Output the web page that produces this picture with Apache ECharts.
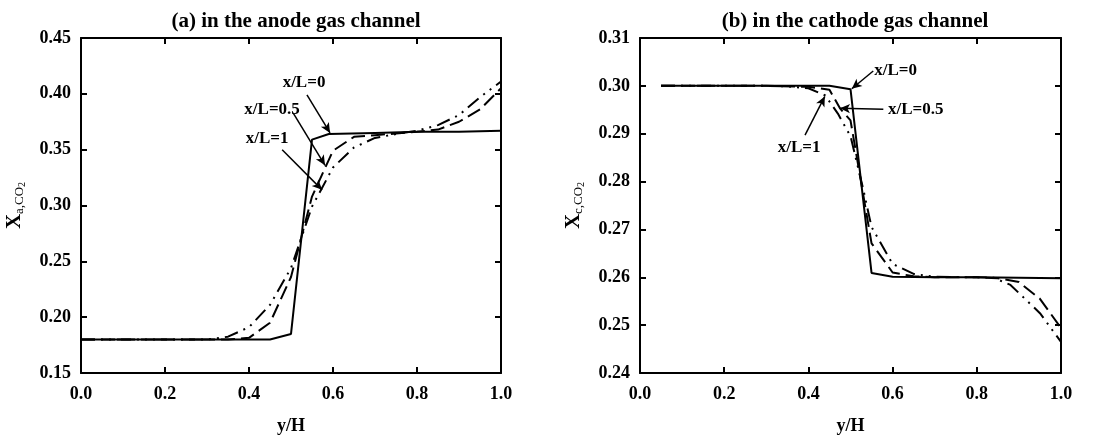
<!DOCTYPE html>
<html>
<head>
<meta charset="utf-8">
<script src="https://cdn.jsdelivr.net/npm/echarts@6/dist/echarts.min.js"></script>
<style>
  html, body { margin: 0; padding: 0; background: #fff; }
  #chart { width: 1109px; height: 441px; }
</style>
</head>
<body>
<div id="chart"></div>
<script>
  // (a) anode gas channel: y/H positions and X_a,CO2 values
  var anodeYH0 = [0, 0.45, 0.5, 0.55, 0.59, 0.7, 0.8, 0.9, 1.0];
  var anodeX0 = [0.18, 0.18, 0.185, 0.359, 0.364, 0.365, 0.366, 0.366, 0.367];
  var anodeYH = [0, 0.05, 0.1, 0.15, 0.2, 0.25, 0.3, 0.35, 0.4, 0.45, 0.5, 0.55, 0.6, 0.65, 0.7, 0.75, 0.8, 0.85, 0.9, 0.95, 1.0];
  var anodeX05 = [0.18, 0.18, 0.18, 0.18, 0.18, 0.18, 0.18, 0.18, 0.1815, 0.195, 0.236, 0.308, 0.349, 0.3615, 0.363, 0.3645, 0.366, 0.368, 0.375, 0.386, 0.405];
  var anodeX1 = [0.18, 0.18, 0.18, 0.18, 0.18, 0.18, 0.18, 0.1825, 0.191, 0.211, 0.244, 0.299, 0.334, 0.352, 0.3605, 0.364, 0.367, 0.372, 0.381, 0.397, 0.411];

  // (b) cathode gas channel
  var cathodeYH0 = [0.05, 0.45, 0.5, 0.55, 0.6, 0.7, 0.8, 0.9, 1.0];
  var cathodeX0 = [0.3, 0.3, 0.2993, 0.2609, 0.2601, 0.26, 0.26, 0.2599, 0.2598];
  var cathodeYH05 = [0.05, 0.2, 0.3, 0.4, 0.45, 0.475, 0.5, 0.55, 0.6, 0.65, 0.7, 0.8, 0.85, 0.9, 0.95, 1.0];
  var cathodeX05 = [0.3, 0.3, 0.3, 0.2998, 0.2992, 0.2953, 0.2928, 0.2671, 0.261, 0.2602, 0.26, 0.26, 0.2598, 0.259, 0.2555, 0.2494];
  var cathodeYH1 = [0.05, 0.2, 0.3, 0.35, 0.4, 0.44, 0.47, 0.5, 0.53, 0.55, 0.6, 0.65, 0.7, 0.8, 0.84, 0.88, 0.95, 1.0];
  var cathodeX1 = [0.3, 0.3, 0.3, 0.2999, 0.2995, 0.298, 0.2942, 0.2895, 0.2785, 0.2705, 0.2628, 0.2607, 0.2601, 0.26, 0.2599, 0.2584, 0.2525, 0.2465];

  // axis ranges
  var xTicks = {min: 0, max: 1, interval: 0.2};
  var anodeTicks = {min: 0.15, max: 0.45, interval: 0.05};
  var cathodeTicks = {min: 0.24, max: 0.31, interval: 0.01};

  // annotation labels and arrows [text, textPos, arrowFrom, arrowTo]
  var anodeNotes = [
    ['x/L=0', [0.531, 0.41], [0.538, 0.399], [0.593, 0.365]],
    ['x/L=0.5', [0.455, 0.386], [0.505, 0.383], [0.581, 0.336]],
    ['x/L=1', [0.443, 0.36], [0.479, 0.35], [0.574, 0.314]]
  ];
  var cathodeNotes = [
    ['x/L=0', [0.607, 0.3031], [0.554, 0.3031], [0.503, 0.2994]],
    ['x/L=0.5', [0.655, 0.2951], [0.578, 0.2951], [0.475, 0.2953]],
    ['x/L=1', [0.378, 0.2871], [0.392, 0.2897], [0.439, 0.2978]]
  ];

  var FONT = 'Liberation Serif';

  function pairs(xs, ys) {
    return xs.map(function (x, i) { return [x, ys[i]]; });
  }

  //箭头和标注文字
  function notesMarks(notes) {
    return {
      markLine: {
        silent: true,
        symbol: ['none', 'arrow'],
        symbolSize: [7, 10],
        label: {show: false},
        lineStyle: {color: '#000', width: 1.5, type: 'solid'},
        data: notes.map(function (n) {
          return [{coord: n[2]}, {coord: n[3]}];
        })
      },
      markPoint: {
        silent: true,
        symbol: 'circle',
        symbolSize: 0,
        label: {
          show: true,
          position: 'inside',
          color: '#000',
          fontFamily: FONT,
          fontWeight: 'bold',
          fontSize: 17,
          formatter: function (p) { return p.name; }
        },
        data: notes.map(function (n) {
          return {name: n[0], coord: n[1]};
        })
      }
    };
  }

  function xAxisFor(gridIndex, pos) {
    var top = pos === 'top';
    return {
      type: 'value', gridIndex: gridIndex, position: pos,
      min: xTicks.min, max: xTicks.max, interval: xTicks.interval,
      name: top ? '' : 'y/H', nameLocation: 'middle', nameGap: 44,
      nameTextStyle: {fontFamily: FONT, fontWeight: 'bold', fontSize: 18, color: '#000'},
      axisLine: {show: true, onZero: false, lineStyle: {color: '#000', width: 2}},
      axisTick: {show: true, inside: true, length: 6, lineStyle: {width: 2}},
      axisLabel: {
        show: !top, margin: 12, color: '#000', fontFamily: FONT, fontWeight: 'bold', fontSize: 18,
        formatter: function (v) { return v.toFixed(1); }
      },
      splitLine: {show: false}
    };
  }

  function yAxisFor(gridIndex, pos, ticks, sub) {
    var right = pos === 'right';
    return {
      type: 'value', gridIndex: gridIndex, position: pos,
      min: ticks.min, max: ticks.max, interval: ticks.interval,
      name: right ? '' : '{x|X}{s|' + sub + ',CO}{t|2}',
      nameLocation: 'middle', nameGap: 54, nameRotate: 90,
      nameTextStyle: {
        color: '#000',
        rich: {
          x: {fontFamily: FONT, fontWeight: 'bold', fontSize: 21, color: '#000'},
          s: {fontFamily: FONT, fontSize: 13, color: '#000', padding: [10, 0, 0, 0]},
          t: {fontFamily: FONT, fontSize: 10, color: '#000', padding: [15, 0, 0, 0]}
        }
      },
      axisLine: {show: true, onZero: false, lineStyle: {color: '#000', width: 2}},
      axisTick: {show: true, inside: true, length: 6, lineStyle: {width: 2}},
      axisLabel: {
        show: !right, margin: 10, color: '#000', fontFamily: FONT, fontWeight: 'bold', fontSize: 18,
        formatter: function (v) { return v.toFixed(2); }
      },
      splitLine: {show: false}
    };
  }

  function lineSeries(xi, yi, data, type, extra) {
    var s = {
      type: 'line', xAxisIndex: xi, yAxisIndex: yi, data: data,
      showSymbol: false, symbol: 'none', silent: true, animation: false,
      lineStyle: {color: '#000', width: 2, type: type}
    };
    if (extra) Object.assign(s, extra);
    return s;
  }

  var chart = echarts.init(document.getElementById('chart'));
  chart.setOption({
    backgroundColor: '#fff',
    animation: false,
    title: [
      {text: '(a) in the anode gas channel', left: 291, top: 6, textAlign: 'center',
        textStyle: {fontFamily: FONT, fontWeight: 'bold', fontSize: 21, color: '#000'}},
      {text: '(b) in the cathode gas channel', left: 850, top: 6, textAlign: 'center',
        textStyle: {fontFamily: FONT, fontWeight: 'bold', fontSize: 21, color: '#000'}}
    ],
    grid: [
      {left: 81, top: 38, width: 420, height: 335},
      {left: 640, top: 38, width: 421, height: 335}
    ],
    xAxis: [xAxisFor(0, 'bottom'), xAxisFor(0, 'top'), xAxisFor(1, 'bottom'), xAxisFor(1, 'top')],
    yAxis: [
      yAxisFor(0, 'left', anodeTicks, 'a'), yAxisFor(0, 'right', anodeTicks, 'a'),
      yAxisFor(1, 'left', cathodeTicks, 'c'), yAxisFor(1, 'right', cathodeTicks, 'c')
    ],
    series: [
      lineSeries(0, 0, pairs(anodeYH0, anodeX0), 'solid', notesMarks(anodeNotes)),
      lineSeries(0, 0, pairs(anodeYH, anodeX05), [14, 6]),
      lineSeries(0, 0, pairs(anodeYH, anodeX1), [14, 6, 2, 6, 2, 6]),
      lineSeries(2, 2, pairs(cathodeYH0, cathodeX0), 'solid', notesMarks(cathodeNotes)),
      lineSeries(2, 2, pairs(cathodeYH05, cathodeX05), [14, 6]),
      lineSeries(2, 2, pairs(cathodeYH1, cathodeX1), [14, 6, 2, 6, 2, 6])
    ]
  });
</script>
</body>
</html>
